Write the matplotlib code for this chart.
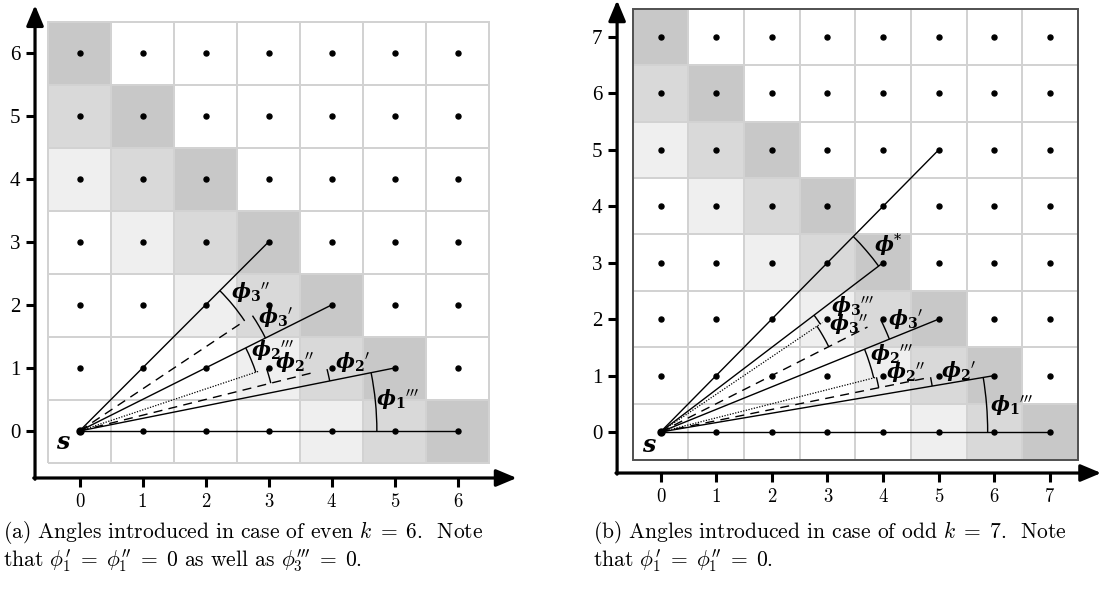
import numpy as np
import matplotlib
matplotlib.use('Agg')
import matplotlib.pyplot as plt
from matplotlib.colors import ListedColormap
from matplotlib.patches import Arc, Rectangle

W, H = 1111, 592

# cell shading levels, top row first (0 white, 1 light, 2 mid, 3 dark)
SHADE_A = [
    [3, 0, 0, 0, 0, 0, 0],
    [2, 3, 0, 0, 0, 0, 0],
    [1, 2, 3, 0, 0, 0, 0],
    [0, 1, 2, 3, 0, 0, 0],
    [0, 0, 1, 2, 3, 0, 0],
    [0, 0, 0, 1, 2, 3, 0],
    [0, 0, 0, 0, 1, 2, 3],
]
SHADE_B = [
    [3, 0, 0, 0, 0, 0, 0, 0],
    [2, 3, 0, 0, 0, 0, 0, 0],
    [1, 2, 3, 0, 0, 0, 0, 0],
    [0, 1, 2, 3, 0, 0, 0, 0],
    [0, 0, 1, 2, 3, 0, 0, 0],
    [0, 0, 0, 1, 2, 3, 0, 0],
    [0, 0, 0, 0, 1, 2, 3, 0],
    [0, 0, 0, 0, 0, 1, 2, 3],
]
SHADE_COLORS = ['#ffffff', '#efefef', '#d9d9d9', '#c8c8c8']

# rays from s: target grid point, line style, fraction of the ray drawn
RAYS_A = [((6, 0), '-', 1.0), ((5, 1), '-', 1.0), ((4, 1), '--', 0.92),
          ((3, 1), ':', 0.95), ((4, 2), '-', 1.0), ((3, 2), '--', 0.85),
          ((3, 3), '-', 1.0)]
RAYS_B = [((7, 0), '-', 1.0), ((6, 1), '-', 1.0), ((5, 1), '--', 0.95),
          ((4, 1), ':', 0.97), ((5, 2), '-', 1.0), ((4, 2), '--', 0.93),
          ((3, 2), ':', 0.97), ((4, 3), '-', 1.0), ((5, 5), '-', 1.0)]

# angle arcs: (subscript, primes, ray a, ray b, radius)
ANGLES_A = [('1', 3, (6, 0), (5, 1), 4.72),
            ('2', 1, (5, 1), (4, 1), 4.05),
            ('2', 2, (4, 1), (3, 1), 3.13),
            ('2', 3, (3, 1), (4, 2), 2.95),
            ('3', 1, (4, 2), (3, 2), 3.30),
            ('3', 2, (3, 2), (3, 3), 3.15)]
ANGLES_B = [('1', 3, (7, 0), (6, 1), 5.88),
            ('2', 1, (6, 1), (5, 1), 4.95),
            ('2', 2, (5, 1), (4, 1), 4.00),
            ('2', 3, (4, 1), (5, 2), 3.95),
            ('3', 1, (5, 2), (4, 2), 4.43),
            ('3', 2, (4, 2), (3, 2), 3.38),
            ('3', 3, (3, 2), (4, 3), 3.45),
            ('*', 0, (4, 3), (5, 5), 4.90)]
# label anchor (left edge of phi, vertical centre), same order as the arcs
LABEL_POS_A = [(4.74, 0.49), (4.09, 1.08), (3.13, 1.08), (2.75, 1.27),
               (2.87, 1.79), (2.44, 2.19)]
LABEL_POS_B = [(5.96, 0.46), (5.08, 1.06), (4.09, 1.05), (3.80, 1.36),
               (4.12, 1.98), (3.05, 1.90), (3.10, 2.21), (3.86, 3.30)]

CAPTION_A = [r'(a) Angles introduced in case of even $k\;=\;6$.  Note',
             r"that $\phi_1^{\prime}\;=\;\phi_1^{\prime\prime}\;=\;0$ as well as $\phi_3^{\prime\prime\prime}\;=\;0$."]
CAPTION_B = [r'(b) Angles introduced in case of odd $k\;=\;7$.  Note',
             r"that $\phi_1^{\prime}\;=\;\phi_1^{\prime\prime}\;=\;0$."]


def phi_label(sub, primes):
    if sub == '*':
        return r'$\mathbfit{\phi}^{*}$'
    return r'$\mathbfit{\phi}_{\mathbf{%s}}{}^{%s}$' % (sub, r'\prime' * primes)


def make_axes(fig, ox, oy, sx, sy, xlim, ylim):
    left = ox + xlim[0] * sx
    right = ox + xlim[1] * sx
    bot = oy - ylim[0] * sy
    top = oy - ylim[1] * sy
    ax = fig.add_axes([left / W, 1 - bot / H, (right - left) / W, (bot - top) / H])
    ax.set_xlim(*xlim)
    ax.set_ylim(*ylim)
    return ax


def draw_panel(ax, shade, rays, angles, label_pos, axis_x, axis_y, tip_x, tip_y,
               s_pos, frame=False):
    k = len(shade) - 1
    edges = np.arange(k + 2) - 0.5
    levels = np.array(shade)[::-1]
    ax.pcolormesh(edges, edges, levels, cmap=ListedColormap(SHADE_COLORS),
                  vmin=-0.5, vmax=3.5, edgecolors='#d2d2d2', linewidth=1.1, zorder=0)
    if frame:
        ax.add_patch(Rectangle((-0.5, -0.5), k + 1, k + 1, fill=False,
                               ec='#505050', lw=1.4, zorder=1))

    for (px, py), ls, frac in rays:
        kw = dict(color='k', lw=1.0, zorder=2)
        if ls == '--':
            kw['dashes'] = (6.5, 4.5)
        elif ls == ':':
            kw['dashes'] = (1.0, 1.2)
            kw['lw'] = 0.9
        ax.plot([0, px * frac], [0, py * frac], **kw)

    for (sub, primes, a, b, r), (lx, ly) in zip(angles, label_pos):
        t1 = np.degrees(np.arctan2(a[1], a[0]))
        t2 = np.degrees(np.arctan2(b[1], b[0]))
        ax.add_patch(Arc((0, 0), 2 * r, 2 * r, theta1=min(t1, t2), theta2=max(t1, t2),
                         color='k', lw=1.0, zorder=2))
        ax.text(lx - 0.03, ly, phi_label(sub, primes), fontsize=14.5,
                math_fontfamily='dejavuserif', ha='left', va='center', zorder=4)

    gx, gy = np.meshgrid(np.arange(k + 1), np.arange(k + 1))
    ax.plot(gx.ravel(), gy.ravel(), 'o', color='k', ms=3.6, zorder=3)
    ax.plot(0, 0, 'o', color='k', ms=5, zorder=3)
    ax.text(s_pos[0], s_pos[1], 's', fontfamily='DejaVu Serif', fontweight='bold',
            fontstyle='italic', fontsize=17, ha='center', va='center', zorder=4)

    # axes with arrow heads
    arrow = dict(arrowstyle='-|>,head_length=0.62,head_width=0.26', lw=2.3,
                 color='k', shrinkA=0, shrinkB=0, mutation_scale=20)
    ax.annotate('', xy=(tip_x, axis_y), xytext=(axis_x - 0.02, axis_y), arrowprops=arrow)
    ax.annotate('', xy=(axis_x, tip_y), xytext=(axis_x, axis_y - 0.02), arrowprops=arrow)

    for side in ['top', 'right']:
        ax.spines[side].set_visible(False)
    ax.spines['left'].set_position(('data', axis_x))
    ax.spines['bottom'].set_position(('data', axis_y))
    ax.spines['left'].set_color('none')
    ax.spines['bottom'].set_color('none')
    ax.set_xticks(range(k + 1))
    ax.set_yticks(range(k + 1))
    ax.tick_params(direction='out', length=6.5, width=2.2, pad=4)
    for lab in ax.get_xticklabels():
        lab.set_fontfamily('cmr10')
        lab.set_fontsize(13.5)
    for lab in ax.get_yticklabels():
        lab.set_fontfamily('Liberation Serif')
        lab.set_fontsize(15)
    ax.patch.set_visible(False)


fig = plt.figure(figsize=(W / 100, H / 100), dpi=100)

ax_a = make_axes(fig, 79.5, 431, 63, 63, (-1.0, 7.1), (-1.3, 6.84))
draw_panel(ax_a, SHADE_A, RAYS_A, ANGLES_A, LABEL_POS_A,
           axis_x=-0.706, axis_y=-0.746, tip_x=6.94, tip_y=6.76, s_pos=(-0.26, -0.17))

ax_b = make_axes(fig, 660.5, 432, 55.64, 56.43, (-1.0, 8.0), (-1.2, 7.65))
draw_panel(ax_b, SHADE_B, RAYS_B, ANGLES_B, LABEL_POS_B,
           axis_x=-0.78, axis_y=-0.727, tip_x=7.92, tip_y=7.65, s_pos=(-0.22, -0.23),
           frame=True)

for i, line in enumerate(CAPTION_A):
    fig.text(3 / W, 1 - (538.5 + 28.5 * i) / H, line, fontfamily='cmr10',
             math_fontfamily='cm', fontsize=15.5, va='baseline')
for i, line in enumerate(CAPTION_B):
    fig.text(593 / W, 1 - (538.5 + 28.5 * i) / H, line, fontfamily='cmr10',
             math_fontfamily='cm', fontsize=15.5, va='baseline')

fig.savefig('out.png', dpi=100)
